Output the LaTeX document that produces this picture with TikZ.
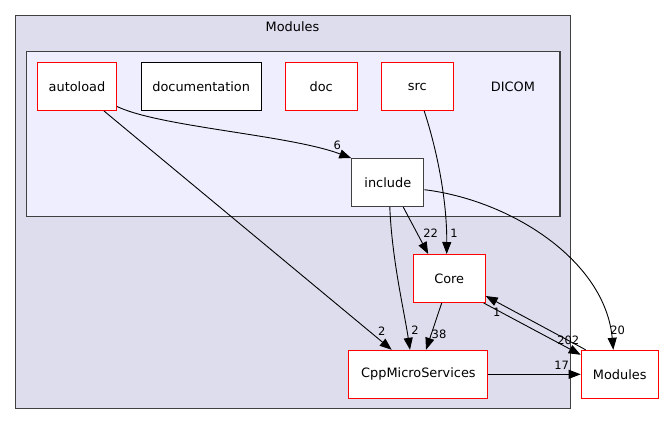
\documentclass[tikz,border=0pt]{standalone}
\usepackage{fontspec}
\setmainfont{DejaVu Sans}
\usetikzlibrary{arrows.meta,positioning,calc}
\definecolor{Frame}{HTML}{404040}
\definecolor{OuterFill}{HTML}{DDDDEE}
\definecolor{InnerFill}{HTML}{EEEEFF}
\tikzset{
 dirbox/.style={draw=red,fill=white,minimum width=72pt,minimum height=48pt,inner sep=0pt,
   line width=1pt,font=\fontsize{12.9}{15}\selectfont},
 plaindir/.style={dirbox,draw=Frame},
 grp/.style={draw=Frame,line width=1.1pt},
 grplabel/.style={font=\fontsize{12.9}{15}\selectfont,inner sep=0pt},
 arr/.style={-{Triangle[length=12pt,width=9pt]},line width=0.9pt,draw=black},
 num/.style={font=\fontsize{11.5}{13}\selectfont,inner sep=0pt}
}
\begin{document}
\begin{tikzpicture}[x=1pt,y=-1pt]
\useasboundingbox (0,0) rectangle (664,425);
\draw[grp,fill=OuterFill] (15.7,15.7) rectangle (570.5,408.3);
\draw[grp,fill=InnerFill] (26.7,51.7) rectangle (560,216.7);
\node[grplabel] (modlabel) at (292.5,27) {Modules};
\node[grplabel] (dicomlabel) at (513,86.5) {DICOM};
\node[dirbox,minimum width=79pt] (autoload) at (77,86.5) {autoload};
\node[plaindir,minimum width=120pt,draw=black] (documentation) at (201.2,86.5) {documentation};
\node[dirbox] (doc) at (321.2,86.5) {doc};
\node[dirbox] (src) at (417.2,86.5) {src};
\node[plaindir] (include) at (387.8,182.7) {include};
\node[dirbox] (core) at (449.2,278.5) {Core};
\node[dirbox,minimum width=139pt] (cppms) at (418.4,374.3) {CppMicroServices};
\node[dirbox,minimum width=77pt] (modules) at (619.7,374.3) {Modules};
% dependencies
\draw[arr] ($(autoload.east)+(0,20)$) .. controls (160,127) and (290,135) .. (include.north west);
\draw[arr] ($(autoload.south)+(27,0)$) -- ($(cppms.north)+(-26.7,0)$);
\draw[arr] ($(src.south)+(7,0)$) .. controls (437,150) and (447,200) .. ($(core.north)+(-2.5,0)$);
\draw[arr] ($(include.south)+(15.5,0)$) -- ($(core.north)+(-21,0)$);
\draw[arr] ($(include.south)+(2,0)$) .. controls (392,260) and (404,310) .. ($(cppms.north)+(-8.4,0)$);
\draw[arr] ($(include.east)+(0,7)$) .. controls (510,200) and (605,260) .. ($(modules.north)+(-6.4,0)$);
\draw[arr] ($(core.south)+(-7.5,0)$) -- ($(cppms.north)+(7.6,0)$);
\draw[arr] ($(core.south east)+(-2,0)$) -- ($(modules.north west)+(0,5)$);
\draw[arr] ($(modules.north west)+(5,0)$) -- ($(core.south east)+(0,-7)$);
\draw[arr] (cppms.east) -- (modules.west);
% counts
\node[num] (n6) at (337.3,145.7) {6};
\node[num] (n2a) at (381.7,331.7) {2};
\node[num] (n1a) at (454,233.3) {1};
\node[num] (n22) at (430.7,233.3) {22};
\node[num] (n2b) at (415,330) {2};
\node[num] (n20) at (617.7,330) {20};
\node[num] (n38) at (439,334) {38};
\node[num] (n202) at (568.3,340.7) {202};
\node[num] (n1b) at (496.7,312.3) {1};
\node[num] (n17) at (561.7,365.7) {17};
\end{tikzpicture}
\end{document}
